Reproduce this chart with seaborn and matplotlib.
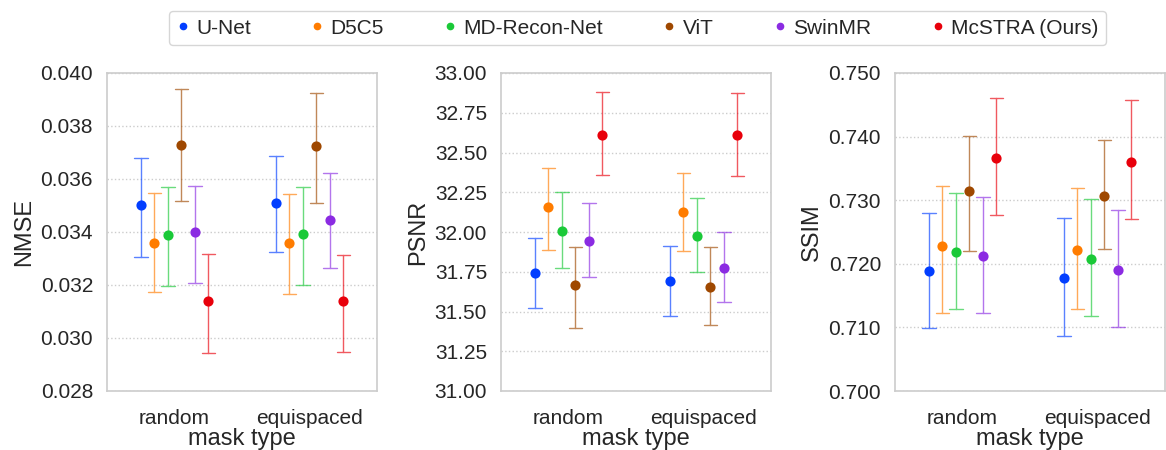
import numpy as np
import pandas as pd
import matplotlib
matplotlib.use("Agg")
import matplotlib.pyplot as plt
from matplotlib.lines import Line2D
import seaborn as sns

models = ["U-Net", "D5C5", "MD-Recon-Net", "ViT", "SwinMR", "McSTRA (Ours)"]
masks = ["random", "equispaced"]

# values per mask: [random (6 models), equispaced (6 models)]
nmse_mean = [[0.03501, 0.03358, 0.03390, 0.03728, 0.03399, 0.03138],
             [0.03511, 0.03360, 0.03391, 0.03724, 0.03447, 0.03138]]
nmse_lo = [[0.03305, 0.03172, 0.03195, 0.03516, 0.03207, 0.02944],
           [0.03323, 0.03166, 0.03201, 0.03510, 0.03263, 0.02949]]
nmse_hi = [[0.03679, 0.03549, 0.03568, 0.03941, 0.03573, 0.03317],
           [0.03686, 0.03542, 0.03569, 0.03924, 0.03621, 0.03314]]

psnr_mean = [[31.740, 32.160, 32.008, 31.666, 31.943, 32.611],
             [31.691, 32.124, 31.973, 31.653, 31.771, 32.607]]
psnr_lo = [[31.519, 31.884, 31.773, 31.399, 31.714, 32.361],
           [31.473, 31.882, 31.746, 31.412, 31.557, 32.353]]
psnr_hi = [[31.964, 32.401, 32.250, 31.905, 32.181, 32.880],
           [31.914, 32.374, 32.212, 31.903, 31.998, 32.876]]

ssim_mean = [[0.71886, 0.72274, 0.72180, 0.73146, 0.72117, 0.73661],
             [0.71780, 0.72211, 0.72080, 0.73067, 0.71901, 0.73608]]
ssim_lo = [[0.70998, 0.71234, 0.71297, 0.72201, 0.71229, 0.72768],
           [0.70872, 0.71297, 0.71187, 0.72227, 0.71008, 0.72700]]
ssim_hi = [[0.72805, 0.73230, 0.73109, 0.74007, 0.73057, 0.74611],
           [0.72721, 0.73188, 0.73025, 0.73944, 0.72841, 0.74569]]

metrics = ["NMSE", "PSNR", "SSIM"]
ylims = [(0.028, 0.040), (31.0, 33.0), (0.700, 0.750)]
yticks = [[0.028, 0.030, 0.032, 0.034, 0.036, 0.038, 0.040],
          [31.00, 31.25, 31.50, 31.75, 32.00, 32.25, 32.50, 32.75, 33.00],
          [0.700, 0.710, 0.720, 0.730, 0.740, 0.750]]
yfmt = ["{:.3f}", "{:.2f}", "{:.3f}"]
series = [(nmse_mean, nmse_lo, nmse_hi), (psnr_mean, psnr_lo, psnr_hi),
          (ssim_mean, ssim_lo, ssim_hi)]


def long_frame(mean, lo, hi):
    rows = []
    for i, m in enumerate(masks):
        for j, mod in enumerate(models):
            for v in (lo[i][j], mean[i][j], hi[i][j]):
                rows.append({"mask type": m, "model": mod, "value": v})
    return pd.DataFrame(rows)


sns.set_theme(style="whitegrid")
plt.rcParams["font.family"] = ["Liberation Sans", "DejaVu Sans"]
palette = [sns.color_palette("bright")[k] for k in (0, 1, 2, 5, 4, 3)]

fig = plt.figure(figsize=(11.66, 4.5), dpi=100)
lefts = [107, 501, 895]
axes = []
for k in range(3):
    ax = fig.add_axes([lefts[k] / 1166, 1 - 391 / 450, 270 / 1166, 318 / 450])
    axes.append(ax)
    df = long_frame(*series[k])
    sns.pointplot(data=df, x="mask type", y="value", hue="model",
                  hue_order=models, order=masks, palette=palette,
                  estimator="median", errorbar=lambda v: (v.min(), v.max()),
                  dodge=0.5, linestyles="none", markers="o", markersize=5.3,
                  capsize=0.1, err_kws={"linewidth": 1.0, "alpha": 0.65},
                  ax=ax, legend=False)
    ax.set_ylim(*ylims[k])
    ax.set_xlim(-0.5, 1.5)
    ax.set_yticks(yticks[k])
    ax.set_yticklabels([yfmt[k].format(t) for t in yticks[k]])
    ax.set_ylabel(metrics[k], fontsize=17)
    ax.set_xlabel("mask type", fontsize=17, labelpad=0)
    ax.tick_params(axis="y", labelsize=15, pad=4)
    ax.tick_params(axis="x", labelsize=15, pad=7)
    ax.grid(axis="y", linestyle=":", color="#cccccc", linewidth=1)
    ax.grid(axis="x", visible=False)
    for s in ax.spines.values():
        s.set_edgecolor("#cccccc")
        s.set_linewidth(1.2)

hs = [Line2D([], [], marker="o", linestyle="none", color=palette[i], markersize=4.5)
      for i in range(len(models))]
fig.legend(hs, models, loc="center", bbox_to_anchor=(637.5 / 1166, 1 - 28 / 450),
           ncol=6, fontsize=15, frameon=True, handlelength=0.6,
           handletextpad=0.35, columnspacing=2.87, borderpad=0.35,
           edgecolor="#cccccc")

fig.savefig("out.png", dpi=100)
